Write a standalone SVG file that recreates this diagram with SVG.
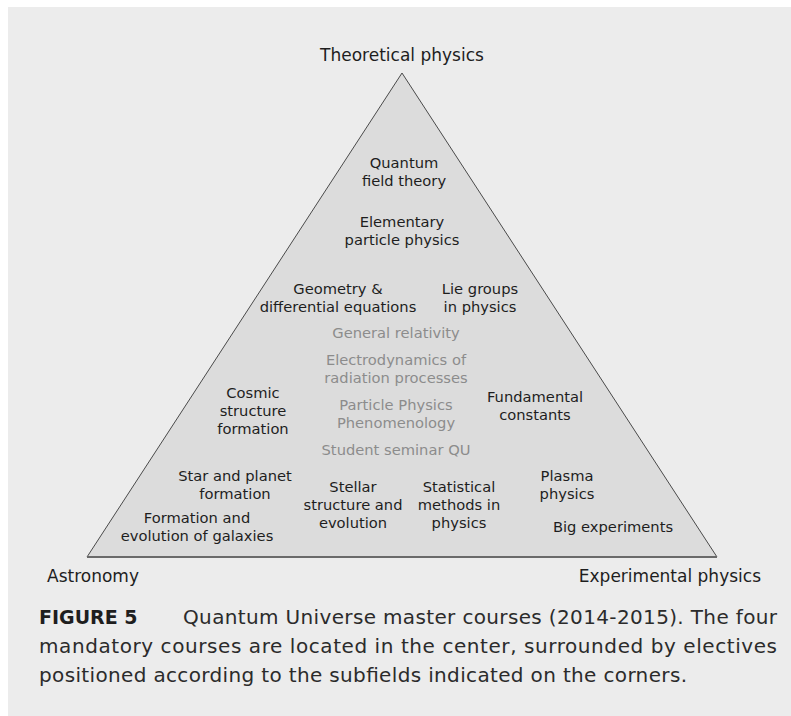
<svg xmlns="http://www.w3.org/2000/svg" width="791" height="716" viewBox="0 0 791 716">
<style>
.lbl{font-family:"DejaVu Sans",Verdana,sans-serif;font-size:14.7px;fill:#1e1e1e;text-anchor:middle}
.req{fill:#8c8c8c}
.corner{font-family:"DejaVu Sans",Verdana,sans-serif;font-size:17px;fill:#1e1e1e}
.cap{font-family:"DejaVu Sans",Verdana,sans-serif;font-size:20px;fill:#2b2b2b}
.capb{font-family:"DejaVu Sans",Verdana,sans-serif;font-size:19px;font-weight:bold;fill:#1e1e1e}
</style>
<rect x="8" y="7" width="783" height="709" fill="#ececec"/>
<g id="connectors">
<polygon points="402,73 87,557 717,557" fill="#dcdcdc" stroke="#4a4a4a" stroke-width="1"/>
<line x1="87" y1="557" x2="717" y2="557" stroke="#6a6a6a" stroke-width="2"/>
</g>
<g id="corner-theoretical"><text class="corner" x="402" y="61" text-anchor="middle">Theoretical physics</text></g>
<g id="corner-astronomy"><text class="corner" x="47" y="582">Astronomy</text></g>
<g id="corner-experimental"><text class="corner" x="761" y="582" text-anchor="end">Experimental physics</text></g>
<g id="qft"><text class="lbl" x="404" y="168">Quantum</text><text class="lbl" x="404" y="186">field theory</text></g>
<g id="epp"><text class="lbl" x="402" y="227">Elementary</text><text class="lbl" x="402" y="245">particle physics</text></g>
<g id="geom"><text class="lbl" x="338" y="294">Geometry &amp;</text><text class="lbl" x="338" y="312">differential equations</text></g>
<g id="lie"><text class="lbl" x="480" y="294">Lie groups</text><text class="lbl" x="480" y="312">in physics</text></g>
<g id="gr"><text class="lbl req" x="396" y="338">General relativity</text></g>
<g id="edyn"><text class="lbl req" x="396" y="365">Electrodynamics of</text><text class="lbl req" x="396" y="383">radiation processes</text></g>
<g id="ppp"><text class="lbl req" x="396" y="410">Particle Physics</text><text class="lbl req" x="396" y="428">Phenomenology</text></g>
<g id="seminar"><text class="lbl req" x="396" y="455">Student seminar QU</text></g>
<g id="cosmic"><text class="lbl" x="253" y="398">Cosmic</text><text class="lbl" x="253" y="416">structure</text><text class="lbl" x="253" y="434">formation</text></g>
<g id="fund"><text class="lbl" x="535" y="402">Fundamental</text><text class="lbl" x="535" y="420">constants</text></g>
<g id="star"><text class="lbl" x="235" y="481">Star and planet</text><text class="lbl" x="235" y="499">formation</text></g>
<g id="stellar"><text class="lbl" x="353" y="492">Stellar</text><text class="lbl" x="353" y="510">structure and</text><text class="lbl" x="353" y="528">evolution</text></g>
<g id="stat"><text class="lbl" x="459" y="492">Statistical</text><text class="lbl" x="459" y="510">methods in</text><text class="lbl" x="459" y="528">physics</text></g>
<g id="plasma"><text class="lbl" x="567" y="481">Plasma</text><text class="lbl" x="567" y="499">physics</text></g>
<g id="galaxies"><text class="lbl" x="197" y="523">Formation and</text><text class="lbl" x="197" y="541">evolution of galaxies</text></g>
<g id="bigexp"><text class="lbl" x="613" y="532">Big experiments</text></g>
<g id="caption">
<text class="capb" x="39" y="624">FIGURE 5</text>
<text class="cap" x="183" y="624" textLength="594" lengthAdjust="spacing">Quantum Universe master courses (2014-2015). The four</text>
<text class="cap" x="39" y="653" textLength="738" lengthAdjust="spacing">mandatory courses are located in the center, surrounded by electives</text>
<text class="cap" x="39" y="682" textLength="648" lengthAdjust="spacing">positioned according to the subfields indicated on the corners.</text>
</g>
</svg>
